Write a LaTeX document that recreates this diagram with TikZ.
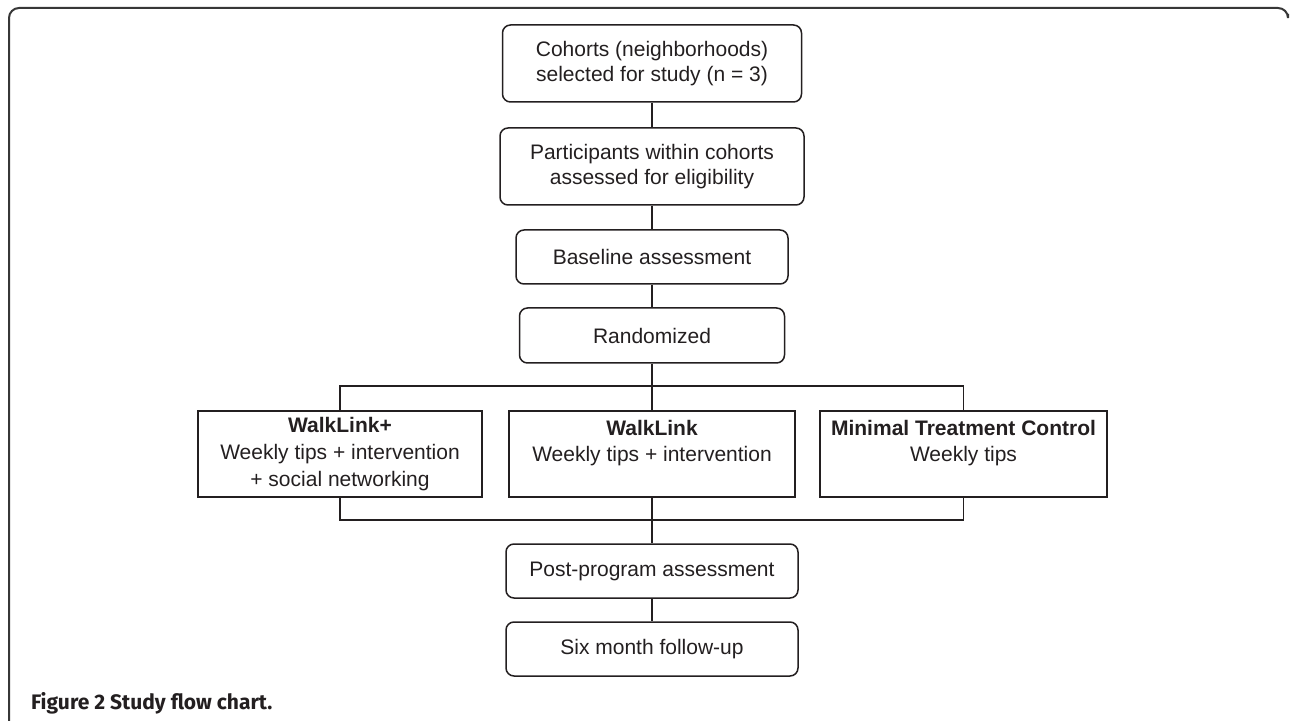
\documentclass[tikz,border=0pt]{standalone}
\usepackage{fontspec}
\setmainfont{Liberation Sans}
\newfontfamily\capfont{Fira Sans}
\definecolor{inkc}{RGB}{35,31,32}
\definecolor{framec}{RGB}{55,55,55}

\begin{document}
\begin{tikzpicture}[x=0.5pt, y=-0.5pt,
		every node/.style={text=inkc, font=\fontsize{10.5}{12.5}\selectfont},
		stage/.style={draw=inkc, line width=0.75pt, rounded corners=4pt, align=center, inner sep=0pt},
		arm/.style={draw=inkc, line width=0.6pt, align=center, inner sep=0pt, minimum width=143pt, minimum height=43pt, font=\fontsize{10.5}{13.3}\selectfont},
		link/.style={draw=inkc, line width=0.6pt}]
		\useasboundingbox (0,0) rectangle (1290,721);
		% frame round the figure
		\draw[framec, line width=1pt, rounded corners=5pt] (9,725) -- (9,8) -- (1288,8) -- (1288,14);
		
		\node[stage, minimum width=149.5pt, minimum height=38.5pt] (cohorts) at (652,63.5) {Cohorts (neighborhoods)\\selected for study (n = 3)};
		\node[stage, minimum width=152pt, minimum height=38.5pt] (particip) at (652,166.5) {Participants within cohorts\\assessed for eligibility};
		\node[stage, minimum width=136pt, minimum height=27pt] (baseline) at (652,257) {Baseline assessment};
		\node[stage, minimum width=132.5pt, minimum height=27.5pt] (random) at (652,335.5) {Randomized};
		
		\node[arm, minimum width=142pt] (wlplus) at (340,454) {\textbf{WalkLink+}\\Weekly tips + intervention\\+ social networking};
		\node[arm] (wl) at (652,454) {\textbf{WalkLink}\\Weekly tips + intervention\\\phantom{W}};
		\node[arm, minimum width=143.5pt] (mtc) at (963.5,454) {\textbf{Minimal Treatment Control}\\Weekly tips\\\phantom{W}};
		
		\node[stage, minimum width=146pt, minimum height=27pt] (post) at (652,571) {Post-program assessment};
		\node[stage, minimum width=146pt, minimum height=27pt] (sixm) at (652,649) {Six month follow-up};
		
		\node[anchor=base west, font=\capfont\fontsize{10.5}{12}\selectfont\bfseries] (caption) at (24,709) {Figure 2 Study flow chart.};
		
		\coordinate (split) at (652,386);
		\coordinate (merge) at (652,520);
		
		\draw[link] (cohorts) -- (particip);
		\draw[link] (particip) -- (baseline);
		\draw[link] (baseline) -- (random);
		\draw[link] (random) -- (split);
		\draw[link] (wlplus.north) |- (split) -| (mtc.north);
		\draw[link] (split) -- (wl);
		\draw[link] (wlplus.south) |- (merge) -| (mtc.south);
		\draw[link] (wl) -- (post);
		\draw[link] (post) -- (sixm);
\end{tikzpicture}
\end{document}
